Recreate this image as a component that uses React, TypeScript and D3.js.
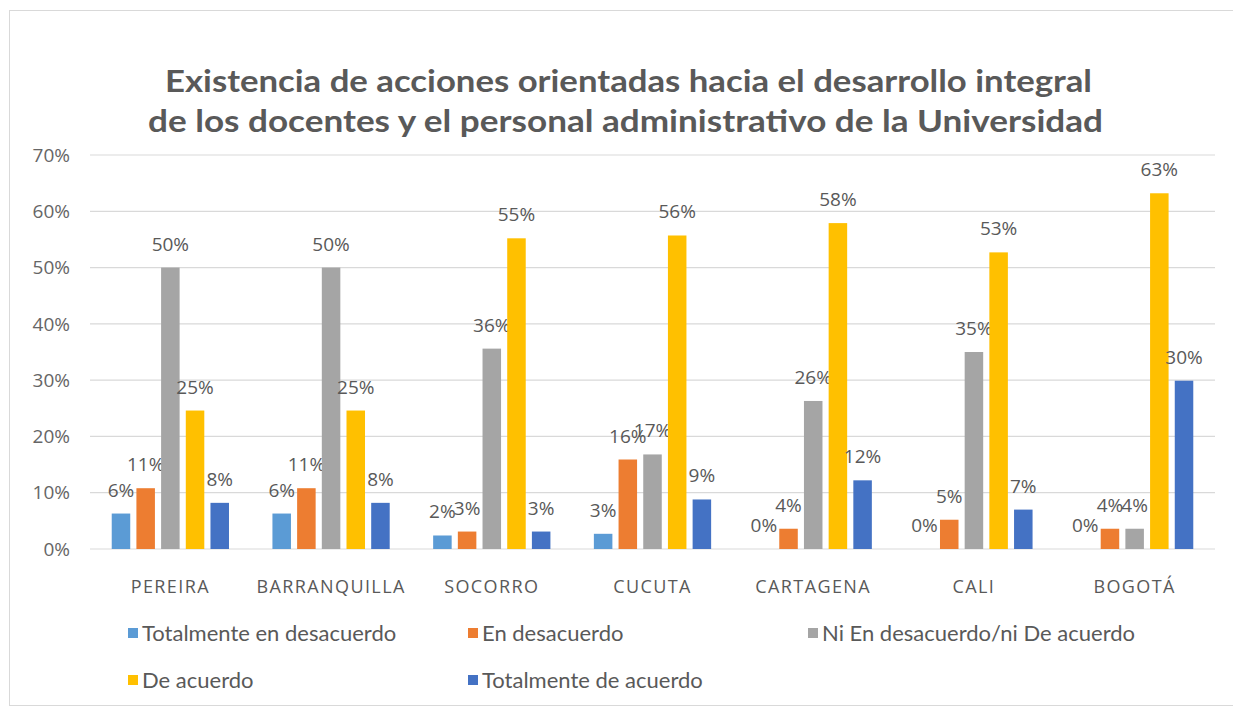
import React from "react";
import * as d3 from "d3";

const categories = ["PEREIRA", "BARRANQUILLA", "SOCORRO", "CUCUTA", "CARTAGENA", "CALI", "BOGOTÁ"];
const seriesNames = [
  "Totalmente en desacuerdo",
  "En desacuerdo",
  "Ni En desacuerdo/ni De acuerdo",
  "De acuerdo",
  "Totalmente de acuerdo",
];
const totalDesacuerdo = [6.3, 6.3, 2.4, 2.7, 0, 0, 0];
const enDesacuerdo = [10.8, 10.8, 3.1, 15.9, 3.6, 5.2, 3.6];
const niNi = [50, 50, 35.6, 16.8, 26.3, 35.0, 3.6];
const deAcuerdo = [24.6, 24.6, 55.2, 55.7, 57.9, 52.7, 63.2];
const totalAcuerdo = [8.2, 8.2, 3.1, 8.8, 12.2, 7.0, 29.9];
const yTicks = [0, 10, 20, 30, 40, 50, 60, 70];
const colors = ["#5B9BD5", "#ED7D31", "#A5A5A5", "#FFC000", "#4472C4"];
const titleLines = [
  "Existencia de acciones orientadas hacia el desarrollo integral",
  "de los docentes y el personal administrativo de la Universidad",
];

const seriesValues = [totalDesacuerdo, enDesacuerdo, niNi, deAcuerdo, totalAcuerdo];

export default function App() {
  const W = 1233;
  const H = 709;
  const left = 90;
  const right = 1215;
  const top = 155;
  const bottom = 549;

  const x0 = d3.scaleBand<string>().domain(categories).range([left, right]).padding(0);
  const x1 = d3
    .scaleBand<string>()
    .domain(seriesNames)
    .range([0, x0.bandwidth()])
    .paddingInner(0.25)
    .paddingOuter(0.88);
  const y = d3.scaleLinear().domain([0, 70]).range([bottom, top]);

  const txt = "#595959";
  const font = "'Open Sans', sans-serif";

  const legendItems = [
    { i: 0, x: 128, y: 633 },
    { i: 1, x: 468, y: 633 },
    { i: 2, x: 808, y: 633 },
    { i: 3, x: 128, y: 680 },
    { i: 4, x: 468, y: 680 },
  ];

  const titleSpans = [
    { x0: 165, x1: 1092 },
    { x0: 148, x1: 1103 },
  ];

  return (
    <svg
      width={W}
      height={H}
      style={{ position: "absolute", left: 0, top: 0, background: "#fff" }}
    >
      <rect x={0} y={0} width={W} height={H} fill="#fff" />
      <rect x={9.5} y={10.5} width={1300} height={695} fill="#fff" stroke="#d9d9d9" strokeWidth={1} />
      {titleLines.map((t, i) => (
        <text
          key={i}
          x={titleSpans[i].x0}
          y={92 + i * 40}
          textLength={titleSpans[i].x1 - titleSpans[i].x0}
          lengthAdjust="spacingAndGlyphs"
          fontFamily="Lato, sans-serif"
          fontWeight={700}
          fontSize={31}
          fill={txt}
        >
          {t}
        </text>
      ))}
      {yTicks.map((t) => (
        <g key={t}>
          <line x1={left} x2={right} y1={y(t)} y2={y(t)} stroke="#d9d9d9" strokeWidth={1.2} />
          <text
            x={70}
            y={y(t)}
            dy="0.35em"
            textAnchor="end"
            fontFamily={font}
            fontSize={19}
            fill="#666"
          >
            {t}%
          </text>
        </g>
      ))}
      {categories.map((c, ci) => (
        <g key={c} transform={`translate(${x0(c)},0)`}>
          {seriesNames.map((s, si) => {
            const v = seriesValues[si][ci];
            const bx = x1(s)!;
            const bw = x1.bandwidth();
            return (
              <g key={s}>
                {v > 0 && (
                  <rect x={bx} y={y(v)} width={bw} height={y(0) - y(v)} fill={colors[si]} />
                )}
                <text
                  x={bx + bw / 2}
                  y={y(v) - 17}
                  textAnchor="middle"
                  fontFamily={font}
                  fontSize={19}
                  fill={txt}
                >
                  {Math.round(v)}%
                </text>
              </g>
            );
          })}
          <text
            x={x0.bandwidth() / 2}
            y={593}
            textAnchor="middle"
            fontFamily={font}
            fontSize={18}
            letterSpacing={1.4}
            fill={txt}
          >
            {c}
          </text>
        </g>
      ))}
      {legendItems.map(({ i, x, y: ly }) => (
        <g key={i}>
          <rect x={x} y={ly - 5} width={10} height={10} fill={colors[i]} />
          <text
            x={x + 14}
            y={ly}
            dy="0.35em"
            fontFamily="Lato, sans-serif"
            fontSize={22}
            fill={txt}
          >
            {seriesNames[i]}
          </text>
        </g>
      ))}
    </svg>
  );
}
